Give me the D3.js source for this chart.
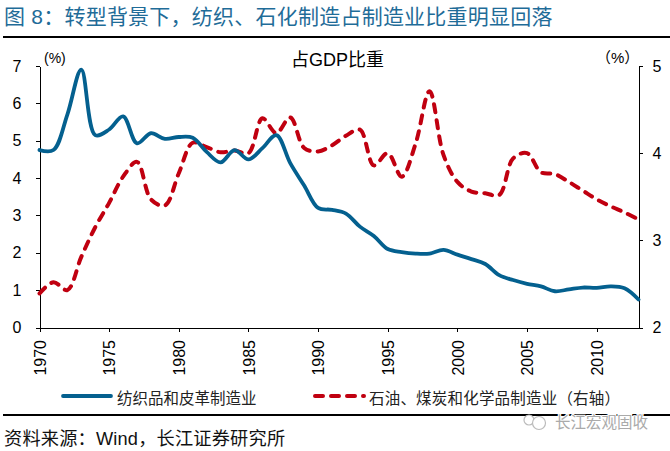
<!DOCTYPE html>
<html><head><meta charset="utf-8">
<script src="https://cdn.jsdelivr.net/npm/d3@7/dist/d3.min.js"></script>
<style>html,body{margin:0;padding:0;background:#fff}svg{display:block}</style>
</head><body><svg id="c" width="670" height="451"></svg>
<script>
const titleText = "图 8：转型背景下，纺织、石化制造占制造业比重明显回落";
const sourceText = "资料来源：Wind，长江证券研究所";
const chartLabel = "占GDP比重";
const watermark = "长江宏观固收";
const years = d3.range(1970, 2014);
const textile = [4.75,4.75,5.7,6.9,5.15,5.3,5.65,4.93,5.2,5.05,5.1,5.08,4.7,4.42,4.75,4.5,4.8,5.15,4.4,3.8,3.2,3.15,3.05,2.7,2.45,2.1,2.02,1.98,1.98,2.08,1.95,1.83,1.7,1.4,1.27,1.17,1.1,0.97,1.02,1.07,1.06,1.1,1.05,0.75];
const petro = [2.39,2.52,2.43,2.81,3.15,3.43,3.73,3.9,3.47,3.4,3.77,4.12,4.07,4.01,4.03,4.0,4.4,4.23,4.41,4.06,4.02,4.09,4.2,4.27,3.86,4.0,3.73,4.11,4.71,3.98,3.67,3.56,3.54,3.52,3.94,4.0,3.78,3.76,3.67,3.57,3.47,3.39,3.32,3.24];
const leftTicks = [0,1,2,3,4,5,6,7];
const rightTicks = [2,3,4,5];
const yearTicks = [1970,1975,1980,1985,1990,1995,2000,2005,2010];
const legendNames = ["纺织品和皮革制造业","石油、煤炭和化学品制造业（右轴）"];
const BLUE = "#04608f", RED = "#c00010", TITLE = "#1f6c98";
const font = "'Liberation Sans', 'Noto Sans CJK SC'";

const svg = d3.select("#c");
const x = d3.scaleLinear().domain([1970, 2013]).range([39.5, 638.5]);
const yL = d3.scaleLinear().domain([0, 7]).range([327.5, 66]);
const yR = d3.scaleLinear().domain([2, 5]).range([327.5, 66]);

svg.append("text").attr("x", 4).attr("y", 24).attr("fill", TITLE)
  .attr("font-family", font).attr("font-size", 21).attr("letter-spacing", 0.23).text(titleText);
svg.append("rect").attr("x", 3).attr("y", 36).attr("width", 667).attr("height", 2).attr("fill", "#000");
svg.append("rect").attr("x", 3).attr("y", 414).attr("width", 667).attr("height", 2).attr("fill", "#000");

function styleAxis(g, size){
  g.selectAll("path,line").attr("stroke", "#000").attr("stroke-width", 1).attr("shape-rendering","crispEdges");
  g.selectAll("text").attr("fill", "#000").attr("font-family", font).attr("font-size", size);
}
const gL = svg.append("g").attr("transform", `translate(${x(1970)},0)`)
  .call(d3.axisLeft(yL).tickValues(leftTicks).tickFormat(d3.format("d")).tickSize(4).tickSizeOuter(0).tickPadding(14));
styleAxis(gL, 16);
const gR = svg.append("g").attr("transform", `translate(${x(2013)},0)`)
  .call(d3.axisRight(yR).tickValues(rightTicks).tickFormat(d3.format("d")).tickSize(4).tickSizeOuter(0).tickPadding(10));
styleAxis(gR, 16);
const gB = svg.append("g").attr("transform", `translate(0,${yL(0)})`)
  .call(d3.axisBottom(x).tickValues(yearTicks).tickFormat(d3.format("d")).tickSize(4).tickSizeOuter(0));
styleAxis(gB, 16);
gB.selectAll("text").attr("transform", "rotate(-90)").attr("text-anchor", "end")
  .attr("x", -12.5).attr("y", 0).attr("dy", "0.35em");

const lineL = d3.line().x((d,i)=>x(years[i])).y(d=>yL(d)).curve(d3.curveCatmullRom.alpha(0.5));
const lineR = d3.line().x((d,i)=>x(years[i])).y(d=>yR(d)).curve(d3.curveCatmullRom.alpha(0.5));
svg.append("path").datum(petro).attr("d", lineR).attr("fill","none").attr("stroke",RED)
  .attr("stroke-width",4).attr("stroke-dasharray","8 8").attr("stroke-linecap","round");
svg.append("path").datum(textile).attr("d", lineL).attr("fill","none").attr("stroke",BLUE)
  .attr("stroke-width",3.8).attr("stroke-linecap","round");

svg.append("text").attr("x",44).attr("y",63).attr("font-family",font).attr("font-size",14).text("(%)");
svg.append("text").attr("x",596).attr("y",63).attr("font-family",font).attr("font-size",15).text("（%）");
svg.append("text").attr("x",291).attr("y",66).attr("font-family",font).attr("font-size",18).text(chartLabel);

svg.append("line").attr("x1",63).attr("x2",111).attr("y1",396).attr("y2",396).attr("stroke",BLUE).attr("stroke-width",3.8).attr("stroke-linecap","round");
svg.append("line").attr("x1",315).attr("x2",364).attr("y1",396).attr("y2",396).attr("stroke",RED).attr("stroke-width",4).attr("stroke-dasharray","8 8").attr("stroke-linecap","round");
svg.append("text").attr("x",117).attr("y",404).attr("font-family",font).attr("font-size",15.5).attr("fill","#222").text(legendNames[0]);
svg.append("text").attr("x",369).attr("y",404).attr("font-family",font).attr("font-size",15.5).attr("letter-spacing",0.2).attr("fill","#222").text(legendNames[1]);
svg.append("text").attr("x",4).attr("y",445).attr("font-family",font).attr("font-size",18.2).attr("letter-spacing",0.2).attr("fill","#111").text(sourceText);

const wm = svg.append("g");
wm.append("circle").attr("cx",529).attr("cy",420).attr("r",5).attr("fill","#fff").attr("stroke","#bbb").attr("stroke-width",1.2);
wm.append("circle").attr("cx",539).attr("cy",423).attr("r",6.5).attr("fill","#fff").attr("stroke","#bbb").attr("stroke-width",1.2);
wm.append("text").attr("x",555).attr("y",428).attr("font-family",font).attr("font-size",15.5).attr("fill","#aaa")
  .attr("stroke","#fff").attr("stroke-width",2).attr("paint-order","stroke").text(watermark);
</script></body></html>
